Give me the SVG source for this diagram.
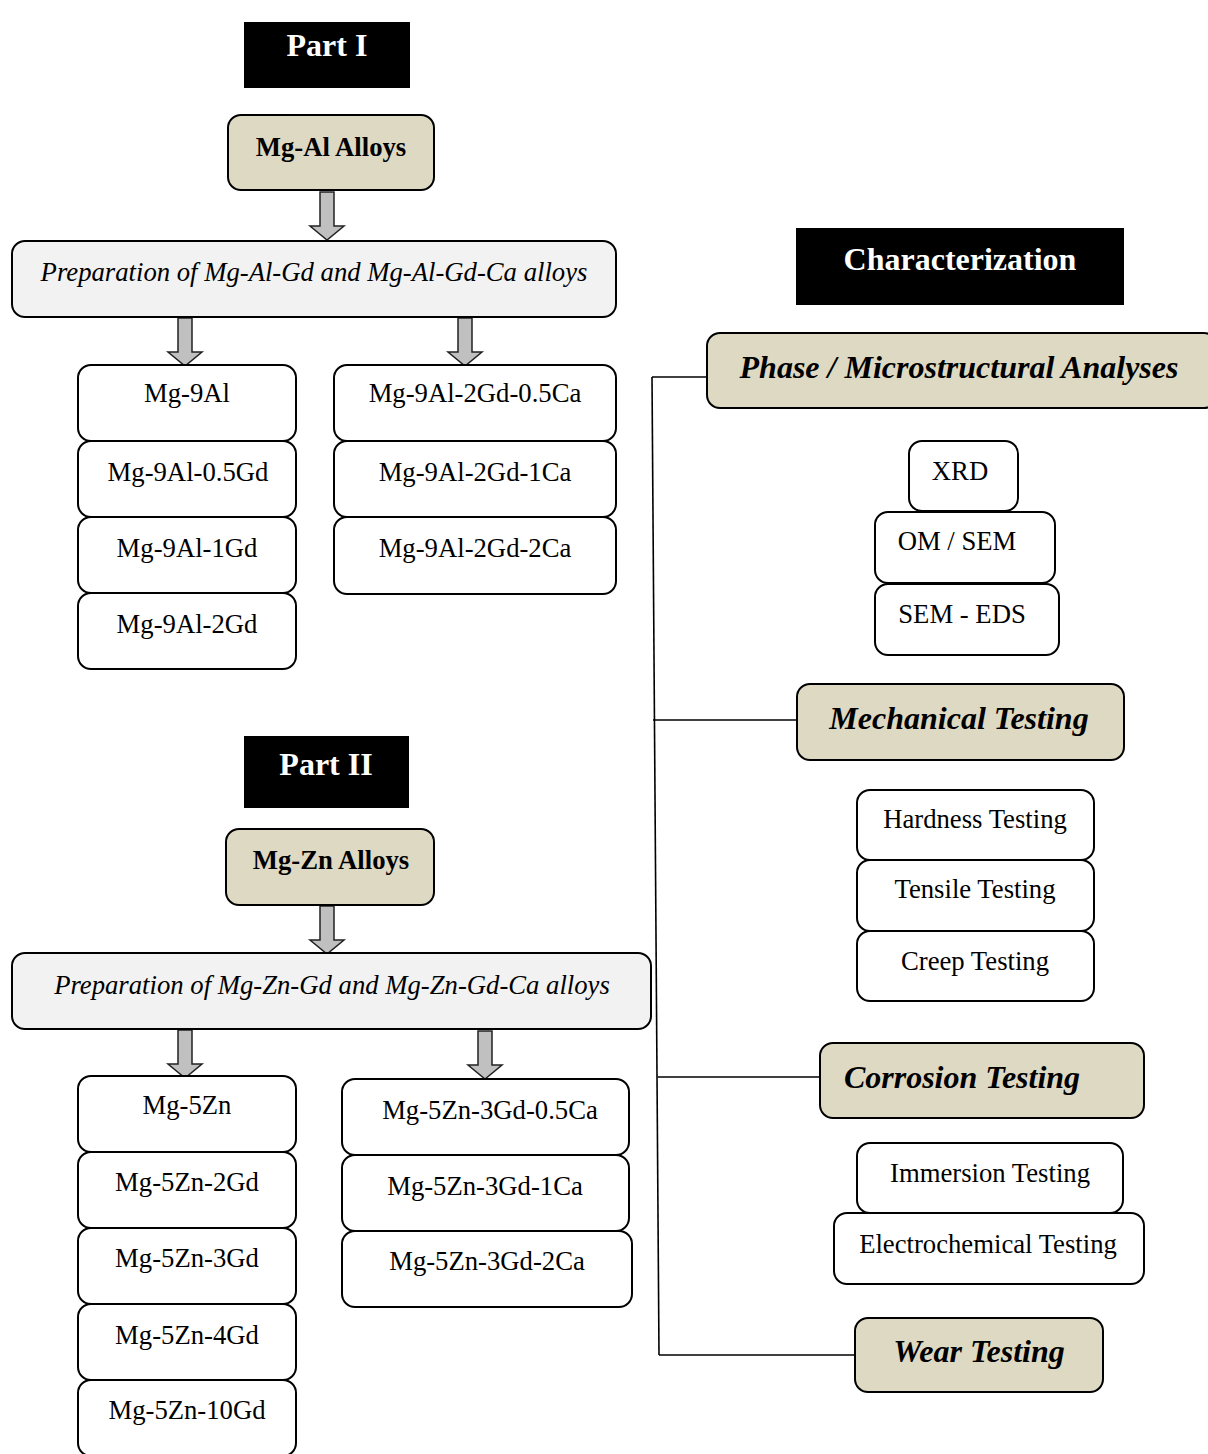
<svg xmlns="http://www.w3.org/2000/svg" width="1208" height="1454" viewBox="0 0 1208 1454">
<defs>
<style>
text{font-family:"Liberation Serif","Times New Roman",serif;fill:#000;text-anchor:middle}
.t{font-size:26.7px}
.it{font-size:26.7px;font-style:italic}
.hb{font-size:26.7px;font-weight:bold}
.h2{font-size:32px;font-weight:bold;font-style:italic}
.blk{fill:#000}
.wt{fill:#fff;font-size:32px;font-weight:bold}
.box{fill:#fff;stroke:#000;stroke-width:2}
.tan{fill:#ddd9c3;stroke:#000;stroke-width:2}
.prep{fill:#f2f2f2;stroke:#000;stroke-width:2}
.arr{fill:#c0c0c0;stroke:#222;stroke-width:1.5}
.ln{fill:none;stroke:#000;stroke-width:1.6}
</style>
<path id="ar" d="M-7,0 H7 V34 H17 L0,48 L-17,34 H-7 Z"/>
</defs>

<g id="connectors">
<use href="#ar" class="arr" x="327" y="192"/>
<use href="#ar" class="arr" x="185" y="318"/>
<use href="#ar" class="arr" x="465" y="318"/>
<use href="#ar" class="arr" x="327" y="906"/>
<use href="#ar" class="arr" x="185" y="1030"/>
<use href="#ar" class="arr" x="485" y="1031"/>
<line class="ln" x1="652" y1="377" x2="659" y2="1355"/>
<line class="ln" x1="652" y1="377" x2="708" y2="377"/>
<line class="ln" x1="653" y1="720" x2="798" y2="720"/>
<line class="ln" x1="658" y1="1077" x2="821" y2="1077"/>
<line class="ln" x1="659" y1="1355" x2="856" y2="1355"/>
</g>

<g id="part1">
<rect class="blk" x="244" y="22" width="166" height="66"/>
<text class="wt" x="327" y="56">Part I</text>
</g>
<g id="mgal">
<rect class="tan" x="228" y="115" width="206" height="75" rx="13"/>
<text class="hb" x="331" y="156">Mg-Al Alloys</text>
</g>
<g id="prep1">
<rect class="prep" x="12" y="241" width="604" height="76" rx="13"/>
<text class="it" x="314" y="281">Preparation of Mg-Al-Gd and Mg-Al-Gd-Ca alloys</text>
</g>
<g id="a1"><rect class="box" x="78" y="365" width="218" height="76" rx="13"/><text class="t" x="187" y="402">Mg-9Al</text></g>
<g id="a2"><rect class="box" x="78" y="441" width="218" height="76" rx="13"/><text class="t" x="188" y="481">Mg-9Al-0.5Gd</text></g>
<g id="a3"><rect class="box" x="78" y="517" width="218" height="76" rx="13"/><text class="t" x="187" y="557">Mg-9Al-1Gd</text></g>
<g id="a4"><rect class="box" x="78" y="593" width="218" height="76" rx="13"/><text class="t" x="187" y="633">Mg-9Al-2Gd</text></g>
<g id="b1"><rect class="box" x="334" y="365" width="282" height="76" rx="13"/><text class="t" x="475" y="402">Mg-9Al-2Gd-0.5Ca</text></g>
<g id="b2"><rect class="box" x="334" y="441" width="282" height="76" rx="13"/><text class="t" x="475" y="481">Mg-9Al-2Gd-1Ca</text></g>
<g id="b3"><rect class="box" x="334" y="517" width="282" height="77" rx="13"/><text class="t" x="475" y="557">Mg-9Al-2Gd-2Ca</text></g>

<g id="part2">
<rect class="blk" x="244" y="736" width="165" height="72"/>
<text class="wt" x="326" y="775">Part II</text>
</g>
<g id="mgzn">
<rect class="tan" x="226" y="829" width="208" height="76" rx="13"/>
<text class="hb" x="331" y="869">Mg-Zn Alloys</text>
</g>
<g id="prep2">
<rect class="prep" x="12" y="953" width="639" height="76" rx="13"/>
<text class="it" x="332" y="994">Preparation of Mg-Zn-Gd and Mg-Zn-Gd-Ca alloys</text>
</g>
<g id="c1"><rect class="box" x="78" y="1076" width="218" height="76" rx="13"/><text class="t" x="187" y="1114">Mg-5Zn</text></g>
<g id="c2"><rect class="box" x="78" y="1152" width="218" height="76" rx="13"/><text class="t" x="187" y="1191">Mg-5Zn-2Gd</text></g>
<g id="c3"><rect class="box" x="78" y="1228" width="218" height="76" rx="13"/><text class="t" x="187" y="1267">Mg-5Zn-3Gd</text></g>
<g id="c4"><rect class="box" x="78" y="1304" width="218" height="76" rx="13"/><text class="t" x="187" y="1344">Mg-5Zn-4Gd</text></g>
<g id="c5"><rect class="box" x="78" y="1380" width="218" height="76" rx="13"/><text class="t" x="187" y="1419">Mg-5Zn-10Gd</text></g>
<g id="d1"><rect class="box" x="342" y="1079" width="287" height="76" rx="13"/><text class="t" x="490" y="1119">Mg-5Zn-3Gd-0.5Ca</text></g>
<g id="d2"><rect class="box" x="342" y="1155" width="287" height="76" rx="13"/><text class="t" x="485" y="1195">Mg-5Zn-3Gd-1Ca</text></g>
<g id="d3"><rect class="box" x="342" y="1231" width="290" height="76" rx="13"/><text class="t" x="487" y="1270">Mg-5Zn-3Gd-2Ca</text></g>

<g id="charac">
<rect class="blk" x="796" y="228" width="328" height="77"/>
<text class="wt" x="960" y="270">Characterization</text>
</g>
<g id="phase">
<rect class="tan" x="707" y="333" width="510" height="75" rx="13"/>
<text class="h2" x="959" y="378">Phase / Microstructural Analyses</text>
</g>
<g id="xrd"><rect class="box" x="909" y="441" width="109" height="70" rx="13"/><text class="t" x="960" y="480">XRD</text></g>
<g id="om"><rect class="box" x="875" y="512" width="180" height="71" rx="13"/><text class="t" x="957" y="550">OM / SEM</text></g>
<g id="eds"><rect class="box" x="875" y="584" width="184" height="71" rx="13"/><text class="t" x="962" y="623">SEM - EDS</text></g>
<g id="mech">
<rect class="tan" x="797" y="684" width="327" height="76" rx="13"/>
<text class="h2" x="959" y="729">Mechanical Testing</text>
</g>
<g id="hard"><rect class="box" x="857" y="790" width="237" height="70" rx="13"/><text class="t" x="975" y="828">Hardness Testing</text></g>
<g id="tens"><rect class="box" x="857" y="860" width="237" height="71" rx="13"/><text class="t" x="975" y="898">Tensile Testing</text></g>
<g id="creep"><rect class="box" x="857" y="931" width="237" height="70" rx="13"/><text class="t" x="975" y="970">Creep Testing</text></g>
<g id="corr">
<rect class="tan" x="820" y="1043" width="324" height="75" rx="13"/>
<text class="h2" x="962" y="1088">Corrosion Testing</text>
</g>
<g id="imm"><rect class="box" x="857" y="1143" width="266" height="70" rx="13"/><text class="t" x="990" y="1182">Immersion Testing</text></g>
<g id="elec"><rect class="box" x="834" y="1213" width="310" height="71" rx="13"/><text class="t" x="988" y="1253">Electrochemical Testing</text></g>
<g id="wear">
<rect class="tan" x="855" y="1318" width="248" height="74" rx="13"/>
<text class="h2" x="979" y="1362">Wear Testing</text>
</g>
</svg>
